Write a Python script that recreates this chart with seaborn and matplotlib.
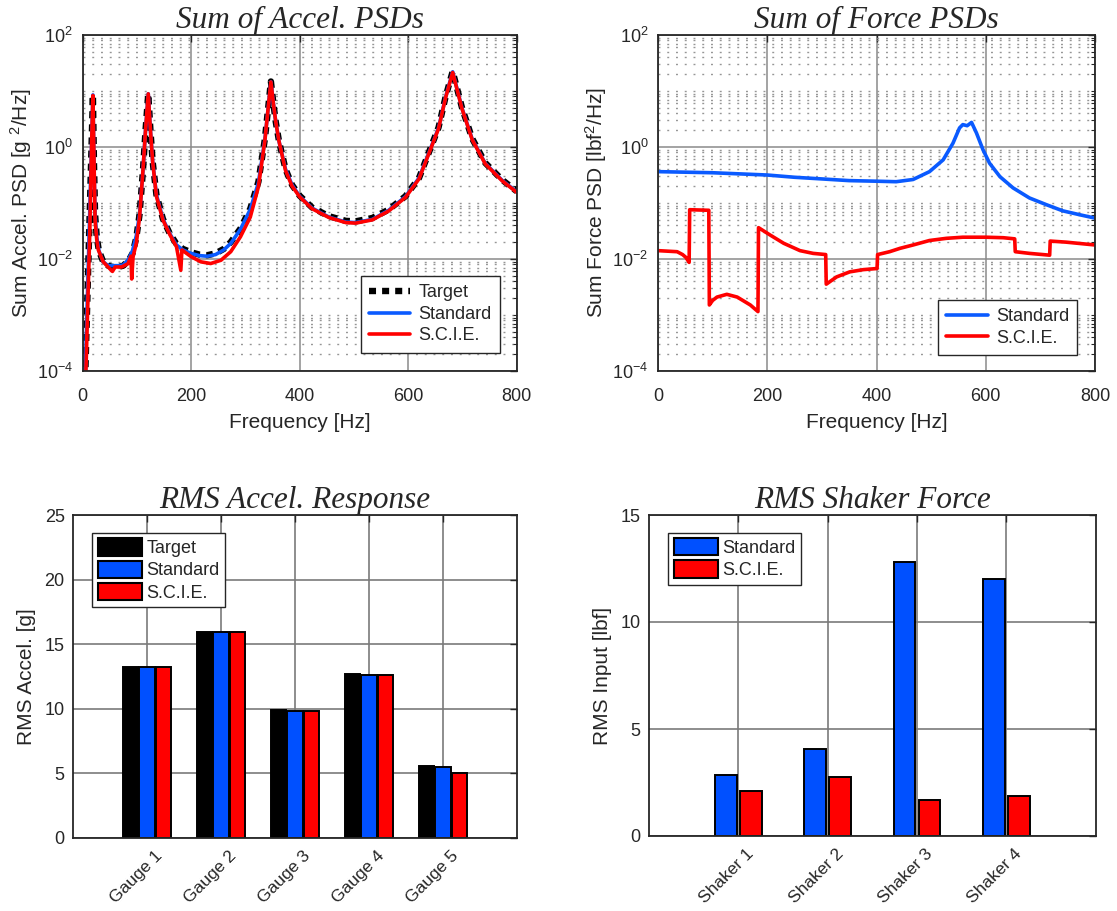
import numpy as np
import pandas as pd
import matplotlib
matplotlib.use("Agg")
import matplotlib.pyplot as plt
from matplotlib.ticker import (LogLocator, FixedLocator, NullFormatter,
                               LogFormatterMathtext, MultipleLocator)
from matplotlib.patches import Patch
from matplotlib.transforms import ScaledTranslation
import seaborn as sns

# ---------------------------------------------------------------- data
# Sum of acceleration PSDs [g^2/Hz]
acc_freq = [4, 12, 17, 19, 21, 23, 26, 30, 38, 47, 55, 65, 75, 85, 92, 99,
            105, 111, 116, 121, 125, 129, 136, 148, 161, 173, 185, 200, 215,
            230, 245, 260, 273, 291, 309, 324, 336, 342, 347, 352, 356, 362,
            374, 386, 400, 423, 454, 485, 503, 534, 564, 595, 620, 644, 656,
            669, 682, 690, 699, 718, 742, 773, 800]
acc_target = [4.0e-5, 2.7e-2, 1.58, 8.5, 0.50, 0.063, 0.025, 0.0141, 0.0089,
              0.0076, 0.0072, 0.0072, 0.0076, 0.0095, 0.0126, 0.024, 0.063,
              0.355, 2.0, 8.9, 2.0, 0.56, 0.141, 0.052, 0.028, 0.0186, 0.0151,
              0.0132, 0.0120, 0.0117, 0.0126, 0.0151, 0.020, 0.035, 0.079,
              0.24, 1.41, 5.0, 14.8, 5.6, 2.8, 1.26, 0.40, 0.21, 0.135, 0.083,
              0.058, 0.048, 0.047, 0.054, 0.076, 0.132, 0.28, 1.12, 2.24, 7.9,
              22.4, 11.2, 5.1, 1.41, 0.52, 0.26, 0.162]
acc_standard = [4.0e-5, 2.7e-2, 1.58, 8.5, 0.50, 0.063, 0.025, 0.0141, 0.0089,
                0.0076, 0.0076, 0.0076, 0.0078, 0.0100, 0.0141, 0.026, 0.063,
                0.355, 2.0, 8.9, 2.0, 0.56, 0.141, 0.052, 0.028, 0.0178,
                0.0145, 0.0126, 0.0115, 0.0112, 0.0120, 0.0145, 0.019, 0.034,
                0.077, 0.23, 1.38, 5.0, 14.6, 5.6, 2.8, 1.26, 0.40, 0.21,
                0.132, 0.081, 0.056, 0.0457, 0.0447, 0.051, 0.074, 0.130,
                0.28, 1.10, 2.2, 7.8, 22.0, 11.0, 5.0, 1.38, 0.51, 0.255, 0.158]

acc_scie_freq = [5, 13, 17, 19, 21, 23, 26, 29, 38, 47, 55, 60, 72, 84, 89,
                 90.5, 93, 99, 105, 111, 116, 121, 125, 129, 136, 148, 161,
                 173, 181, 183, 200, 218, 236, 255, 273, 291, 309, 324, 336,
                 342, 347, 352, 356, 362, 374, 386, 400, 423, 454, 485, 503,
                 534, 564, 595, 620, 644, 656, 669, 682, 690, 699, 718, 742,
                 773, 800]
acc_scie = [4.0e-5, 0.025, 1.58, 8.3, 0.63, 0.050, 0.0224, 0.0145, 0.0089,
            0.0072, 0.0060, 0.0072, 0.0072, 0.0083, 0.0112, 0.0044, 0.011,
            0.019, 0.056, 0.355, 2.0, 8.9, 2.0, 0.56, 0.132, 0.050, 0.027,
            0.0166, 0.0063, 0.0145, 0.011, 0.0089, 0.0083, 0.0095, 0.0135,
            0.025, 0.056, 0.195, 1.32, 5.0, 14.5, 5.6, 2.8, 1.26, 0.38, 0.20,
            0.129, 0.079, 0.055, 0.0447, 0.0437, 0.050, 0.072, 0.126, 0.27,
            1.07, 2.14, 7.6, 21.4, 10.7, 4.9, 1.35, 0.50, 0.25, 0.155]

# Sum of shaker force PSDs [lbf^2/Hz]
frc_std_freq = [0, 50, 100, 150, 200, 250, 300, 350, 400, 436, 467, 497, 522,
                540, 552, 558, 566, 574, 583, 595, 607, 626, 650, 680, 711,
                741, 772, 800]
frc_standard = [0.363, 0.355, 0.347, 0.331, 0.316, 0.288, 0.269, 0.251,
                0.245, 0.240, 0.263, 0.363, 0.589, 1.17, 2.19, 2.51, 2.40,
                2.75, 1.78, 0.891, 0.513, 0.295, 0.186, 0.123, 0.0933,
                0.0724, 0.0617, 0.0537]
frc_scie_freq = [0, 35, 45, 51, 57, 58, 93, 94, 100, 108, 126, 145, 169, 183,
                 184, 205, 230, 260, 284, 307, 308, 327, 351, 376, 401, 402,
                 424, 443, 467, 497, 528, 558, 600, 632, 653, 654, 680, 717,
                 718, 747, 800]
frc_scie = [0.0141, 0.0135, 0.0120, 0.0107, 0.0087, 0.0759, 0.0741, 0.00151,
            0.00182, 0.00209, 0.00234, 0.00209, 0.00151, 0.00115, 0.0363,
            0.0269, 0.0191, 0.0141, 0.0126, 0.0120, 0.00355, 0.00479,
            0.00589, 0.00646, 0.00676, 0.0120, 0.0135, 0.0155, 0.0178,
            0.0214, 0.0234, 0.0245, 0.0245, 0.0240, 0.0229, 0.0135, 0.0126,
            0.0117, 0.0209, 0.0200, 0.0178]

# RMS acceleration response per gauge [g]
gauges = ["Gauge 1", "Gauge 2", "Gauge 3", "Gauge 4", "Gauge 5"]
rms_acc_target = [13.25, 15.98, 9.92, 12.70, 5.54]
rms_acc_standard = [13.20, 15.98, 9.80, 12.65, 5.46]
rms_acc_scie = [13.20, 15.98, 9.80, 12.65, 5.06]

# RMS shaker force per shaker [lbf]
shakers = ["Shaker 1", "Shaker 2", "Shaker 3", "Shaker 4"]
rms_frc_standard = [2.86, 4.05, 12.80, 12.00]
rms_frc_scie = [2.11, 2.77, 1.69, 1.86]

# ---------------------------------------------------------------- style
BLUE = "#0a5aff"
BAR_BLUE = "#0050ff"
RED = "#ff0000"
GRID = "#8a8a8a"
EDGE = "#262626"

sns.set_style("white")
plt.rcParams.update({
    "font.family": ["Liberation Sans", "DejaVu Sans"],
    "mathtext.fontset": "custom",
    "mathtext.rm": "Liberation Sans",
    "mathtext.it": "Liberation Sans:italic",
    "mathtext.bf": "Liberation Sans:bold",
    "mathtext.default": "regular",
    "axes.edgecolor": EDGE,
    "axes.linewidth": 1.3,
    "xtick.color": EDGE,
    "ytick.color": EDGE,
    "xtick.labelcolor": "#262626",
    "ytick.labelcolor": "#262626",
    "axes.labelcolor": "#262626",
})

TICK_FS = 13
LABEL_FS = 15
LEG_FS = 13
TITLE_KW = dict(fontfamily="Liberation Serif", fontstyle="italic",
                fontsize=22.5, pad=5)

W, H = 1117, 911
fig = plt.figure(figsize=(W / 100, H / 100), dpi=100)


def px_axes(x0, x1, y0, y1):
    return fig.add_axes([x0 / W, (H - y1) / H, (x1 - x0) / W, (y1 - y0) / H])


ax_acc = px_axes(82.6, 516.7, 35, 371)
ax_frc = px_axes(658, 1095, 35, 371)
ax_rms = px_axes(73, 517, 515, 838)
ax_shk = px_axes(649, 1095.6, 515, 836)


def style_psd(ax):
    ax.set_yscale("log")
    ax.set_xlim(0, 800)
    ax.set_ylim(1e-4, 1e2)
    ax.xaxis.set_major_locator(FixedLocator([0, 200, 400, 600, 800]))
    ax.yaxis.set_major_locator(FixedLocator([1e-4, 1e-2, 1e0, 1e2]))
    ax.yaxis.set_major_formatter(LogFormatterMathtext())
    ax.yaxis.set_minor_locator(LogLocator(base=10, subs=np.arange(1, 10),
                                          numticks=100))
    ax.yaxis.set_minor_formatter(NullFormatter())
    ax.set_axisbelow(True)
    ax.grid(which="major", color=GRID, lw=1.1)
    ax.grid(which="minor", axis="y", color="#969696", lw=1.0,
            linestyle=(0, (1.4, 4.9)))
    ax.grid(which="minor", axis="x", visible=False)
    ax.tick_params(which="both", direction="in", top=True, right=True,
                   labelsize=TICK_FS)
    ax.tick_params(which="major", length=5, width=1)
    ax.tick_params(which="minor", length=3, width=0.8)
    ax.tick_params(axis="x", which="major", pad=12)
    ax.tick_params(axis="y", which="major", pad=7)
    ax.set_xlabel("Frequency [Hz]", fontsize=LABEL_FS, labelpad=6)
    for s in ax.spines.values():
        s.set_visible(True)


def psd_legend(ax, anchor):
    ax.legend(loc="lower right", bbox_to_anchor=anchor, fontsize=LEG_FS,
              frameon=True, fancybox=False, framealpha=1, edgecolor=EDGE,
              handlelength=2.3, handletextpad=0.45, labelspacing=0.25,
              borderpad=0.45, borderaxespad=0)


# ---------------------------------------------------------------- accel PSDs
sns.lineplot(x=acc_freq, y=acc_target, ax=ax_acc, color="black", lw=4.6,
             estimator=None, sort=False, label="Target",
             linestyle=(0, (1.1, 0.95)))
sns.lineplot(x=acc_freq, y=acc_standard, ax=ax_acc, color=BLUE, lw=2.6,
             estimator=None, sort=False, label="Standard")
sns.lineplot(x=acc_scie_freq, y=acc_scie, ax=ax_acc, color=RED, lw=2.6,
             estimator=None, sort=False, label="S.C.I.E.")
style_psd(ax_acc)
ax_acc.set_ylabel("Sum Accel. PSD [g $^{2}$/Hz]", fontsize=LABEL_FS,
                  labelpad=2)
ax_acc.set_title("Sum of Accel. PSDs", **TITLE_KW)
psd_legend(ax_acc, (0.961, 0.055))

# ---------------------------------------------------------------- force PSDs
sns.lineplot(x=frc_std_freq, y=frc_standard, ax=ax_frc, color=BLUE, lw=2.6,
             estimator=None, sort=False, label="Standard")
sns.lineplot(x=frc_scie_freq, y=frc_scie, ax=ax_frc, color=RED, lw=2.6,
             estimator=None, sort=False, label="S.C.I.E.")
style_psd(ax_frc)
ax_frc.set_ylabel("Sum Force PSD [lbf$^{2}$/Hz]", fontsize=LABEL_FS,
                  labelpad=2)
ax_frc.set_title("Sum of Force PSDs", **TITLE_KW)
psd_legend(ax_frc, (0.959, 0.048))


# ---------------------------------------------------------------- bar charts
def style_bars(ax, n, ymax):
    ax.set_xlim(-1, n)
    ax.set_ylim(0, ymax)
    ax.yaxis.set_major_locator(MultipleLocator(5))
    ax.set_axisbelow(True)
    ax.grid(which="major", color="#7a7a7a", lw=1.2)
    ax.tick_params(which="both", direction="in", top=True, right=True,
                   labelsize=TICK_FS, length=5, width=1)
    ax.tick_params(axis="x", pad=7, labelsize=12.5)
    ax.tick_params(axis="y", pad=6)
    shift = ScaledTranslation(8 / 100, 0, fig.dpi_scale_trans)
    for lab in ax.get_xticklabels():
        lab.set_rotation(45)
        lab.set_ha("right")
        lab.set_va("top")
        lab.set_rotation_mode("anchor")
        lab.set_transform(lab.get_transform() + shift)
    ax.set_xlabel("")
    for s in ax.spines.values():
        s.set_visible(True)


def bar_legend(ax, labels, colors):
    handles = [Patch(facecolor=c, edgecolor="black", lw=1.5, label=l)
               for l, c in zip(labels, colors)]
    ax.legend(handles=handles, loc="upper left", bbox_to_anchor=(0.043, 0.945),
              fontsize=LEG_FS, frameon=True, fancybox=False, framealpha=1,
              edgecolor=EDGE, handlelength=2.45, handleheight=1.1,
              handletextpad=0.25, labelspacing=0.2, borderpad=0.3,
              borderaxespad=0)


acc_cases = ["Target", "Standard", "S.C.I.E."]
acc_df = pd.DataFrame({
    "gauge": gauges * 3,
    "case": np.repeat(acc_cases, len(gauges)),
    "rms": rms_acc_target + rms_acc_standard + rms_acc_scie,
})
acc_colors = ["black", BAR_BLUE, RED]
sns.barplot(data=acc_df, x="gauge", y="rms", hue="case", hue_order=acc_cases,
            palette=acc_colors, saturation=1, width=0.675, gap=0.08,
            edgecolor="black", linewidth=1.4, legend=False, errorbar=None,
            ax=ax_rms)
style_bars(ax_rms, len(gauges), 25)
ax_rms.set_ylabel("RMS Accel. [g]", fontsize=LABEL_FS, labelpad=6)
ax_rms.set_title("RMS Accel. Response", **TITLE_KW)
bar_legend(ax_rms, acc_cases, acc_colors)

frc_cases = ["Standard", "S.C.I.E."]
frc_df = pd.DataFrame({
    "shaker": shakers * 2,
    "case": np.repeat(frc_cases, len(shakers)),
    "rms": rms_frc_standard + rms_frc_scie,
})
frc_colors = [BAR_BLUE, RED]
sns.barplot(data=frc_df, x="shaker", y="rms", hue="case", hue_order=frc_cases,
            palette=frc_colors, saturation=1, width=0.56, gap=0.14,
            edgecolor="black", linewidth=1.4, legend=False, errorbar=None,
            ax=ax_shk)
style_bars(ax_shk, len(shakers), 15)
ax_shk.set_ylabel("RMS Input [lbf]", fontsize=LABEL_FS, labelpad=6)
ax_shk.set_title("RMS Shaker Force", **TITLE_KW)
bar_legend(ax_shk, frc_cases, frc_colors)

fig.savefig("out.png", dpi=100, facecolor="white")
